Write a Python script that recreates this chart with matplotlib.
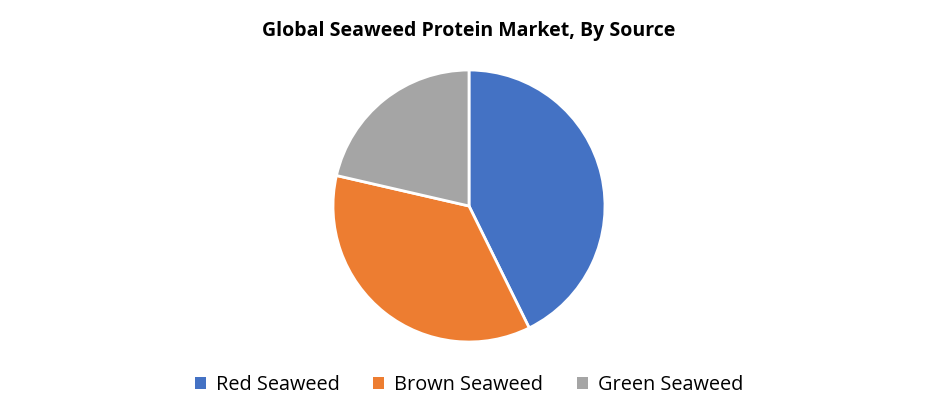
import matplotlib
matplotlib.use("Agg")
from matplotlib import pyplot as plt
from matplotlib.patches import Patch

labels = ["Red Seaweed", "Brown Seaweed", "Green Seaweed"]
shares = [42.7, 35.9, 21.4]
colors = ["#4472C4", "#ED7D31", "#A5A5A5"]

plt.rcParams['font.family'] = ['Open Sans', 'DejaVu Sans']

fig = plt.figure(figsize=(9.38, 4.19), dpi=100)
ax = fig.add_axes([333 / 938, 77 / 419, 272 / 938, 272 / 419])

ax.pie(shares, colors=colors, startangle=90, counterclock=False,
       wedgeprops=dict(edgecolor="white", linewidth=2))
ax.set_xlim(-1.0, 1.0)
ax.set_ylim(-1.0, 1.0)
ax.set_aspect("equal")

fig.text(0.5, 1 - 31 / 419, "Global Seaweed Protein Market, By Source",
         ha="center", va="center", fontsize=14, fontweight="bold")

handles = [Patch(facecolor=c, edgecolor="none") for c in colors]
fig.legend(handles, labels, loc="center", bbox_to_anchor=(0.5, 1 - 385 / 419),
           ncol=3, frameon=False, fontsize=14.3, handlelength=0.55,
           handleheight=0.55, handletextpad=0.5, columnspacing=1.7)

plt.savefig("out.png", dpi=100)
